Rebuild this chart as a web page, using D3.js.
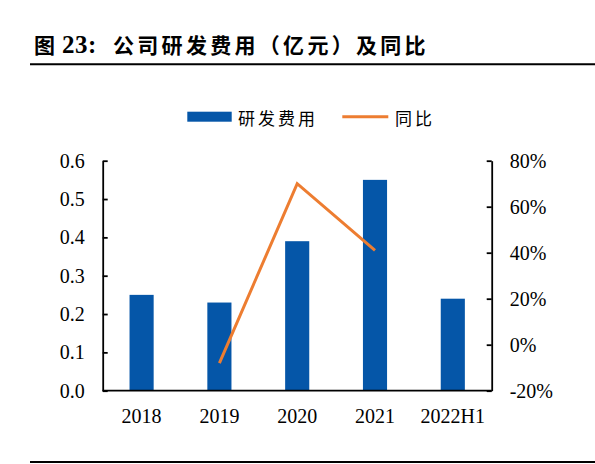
<!DOCTYPE html>
<html><head><meta charset="utf-8">
<script src="https://cdn.jsdelivr.net/npm/d3@7/dist/d3.min.js"></script>
<style>
html,body{margin:0;padding:0;background:#fff;}
svg{display:block;}
</style>
</head><body>
<svg id="c" width="595" height="464"></svg>
<script>
const categories = ["2018", "2019", "2020", "2021", "2022H1"];
const rdExpense = [0.25, 0.23, 0.39, 0.55, 0.24];
const yoyGrowth = [null, -0.08, 0.70, 0.41, null];
const leftTicks = [0, 0.1, 0.2, 0.3, 0.4, 0.5, 0.6];
const rightTicks = [-0.2, 0, 0.2, 0.4, 0.6, 0.8];
const seriesNames = ["研发费用", "同比"];
const titleParts = ["图", "23:", "公司研发费用（亿元）及同比"];

const svg = d3.select("#c");
const L = 102.7, R = 491.7, T = 160.7, B = 390.7;
const BLUE = "#0556A8", ORANGE = "#ED7D31";
const numFont = "'Liberation Serif','Times New Roman',serif";
const cjkFont = "'Noto Sans CJK SC','Noto Sans',sans-serif";

// Title
const title = svg.append("text").attr("y", 53).attr("font-weight", "bold").attr("font-size", 21);
title.append("tspan").attr("x", 34).attr("font-family", cjkFont).text(titleParts[0]);
title.append("tspan").attr("x", 62).attr("font-family", numFont).attr("font-size", 25).attr("letter-spacing", 0.5).text(titleParts[1]);
title.append("tspan").attr("x", 113).attr("font-family", cjkFont).attr("letter-spacing", 3.3).text(titleParts[2]);
svg.append("line").attr("x1", 30).attr("x2", 595).attr("y1", 64.3).attr("y2", 64.3)
  .attr("stroke", "#000").attr("stroke-width", 2);
svg.append("line").attr("x1", 30).attr("x2", 595).attr("y1", 462).attr("y2", 462)
  .attr("stroke", "#000").attr("stroke-width", 2);

// Scales
const x = d3.scaleBand().domain(categories).range([L, R]).paddingInner(0.69).paddingOuter(0.345);
const yL = d3.scaleLinear().domain([0, 0.6]).range([B, T]);
const yR = d3.scaleLinear().domain([-0.2, 0.8]).range([B, T]);

// Bars
svg.append("g").selectAll("rect").data(categories).join("rect")
  .attr("x", d => x(d)).attr("width", x.bandwidth())
  .attr("y", (d, i) => yL(rdExpense[i]))
  .attr("height", (d, i) => yL(0) - yL(rdExpense[i]))
  .attr("fill", BLUE);

// Line
const pts = categories.map((c, i) => ({c, v: yoyGrowth[i]})).filter(p => p.v !== null);
svg.append("path").datum(pts)
  .attr("d", d3.line().x(p => x(p.c) + x.bandwidth() / 2).y(p => yR(p.v)))
  .attr("fill", "none").attr("stroke", ORANGE).attr("stroke-width", 3);

// Axes
const pct = v => Math.round(v * 100) + "%";
const axL = svg.append("g").attr("transform", `translate(${L},0)`)
  .call(d3.axisLeft(yL).tickValues(leftTicks).tickFormat(d3.format(".1f"))
    .tickSizeInner(-5).tickSizeOuter(0).tickPadding(18));
const axR = svg.append("g").attr("transform", `translate(${R},0)`)
  .call(d3.axisRight(yR).tickValues(rightTicks).tickFormat(pct)
    .tickSizeInner(-5).tickSizeOuter(0).tickPadding(18));
[axL, axR].forEach(a => {
  a.select(".domain").attr("stroke", "#000").attr("stroke-width", 1.8);
  a.selectAll(".tick line").attr("stroke", "#000").attr("stroke-width", 1.8);
  a.selectAll("text").attr("font-family", numFont).attr("font-size", 20).attr("fill", "#000");
});
svg.append("line").attr("x1", L).attr("x2", R).attr("y1", B).attr("y2", B)
  .attr("stroke", "#000").attr("stroke-width", 1.8);

svg.append("g").selectAll("text").data(categories).join("text")
  .attr("x", d => x(d) + x.bandwidth() / 2).attr("y", 423)
  .attr("text-anchor", "middle").attr("font-family", numFont).attr("font-size", 20)
  .text(d => d);

// Legend
const lg = svg.append("g");
lg.append("rect").attr("x", 187.3).attr("y", 111.7).attr("width", 44.4).attr("height", 10).attr("fill", BLUE);
lg.append("text").attr("x", 238).attr("y", 117).attr("dominant-baseline", "central")
  .attr("font-family", cjkFont).attr("font-size", 17).attr("letter-spacing", 3).text(seriesNames[0]);
lg.append("line").attr("x1", 342.3).attr("x2", 388.3).attr("y1", 116.7).attr("y2", 116.7)
  .attr("stroke", ORANGE).attr("stroke-width", 3);
lg.append("text").attr("x", 395).attr("y", 117).attr("dominant-baseline", "central")
  .attr("font-family", cjkFont).attr("font-size", 17).attr("letter-spacing", 3).text(seriesNames[1]);
</script>
</body></html>
